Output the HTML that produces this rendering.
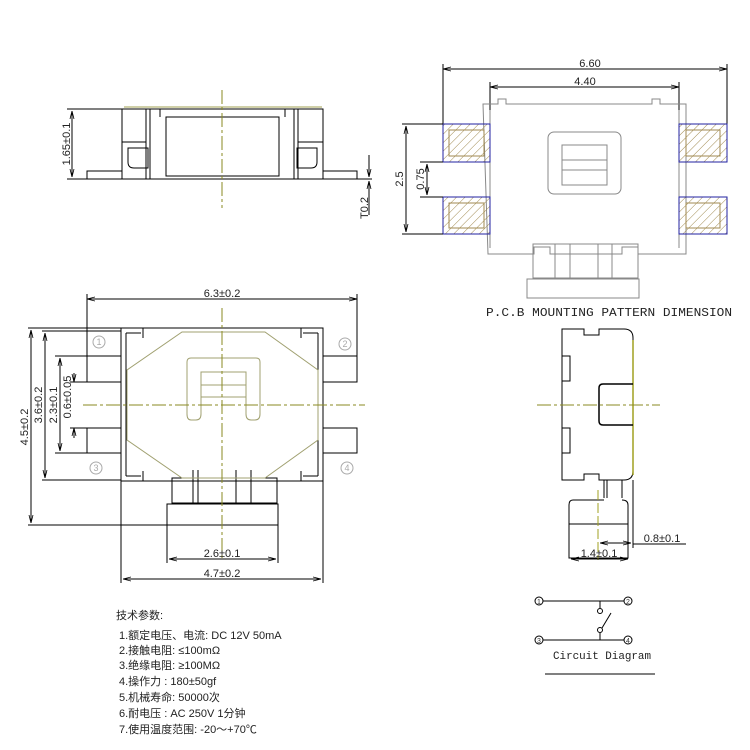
<!DOCTYPE html>
<html><head><meta charset="utf-8"><style>
html,body{margin:0;padding:0;background:#fff;}
svg{display:block;}
text{font-family:"Liberation Sans","Noto Sans CJK SC",sans-serif;}
.t{font-family:"Liberation Serif","Noto Serif CJK SC","Noto Sans CJK SC",serif;font-size:11px;fill:#222;}
</style></head><body>
<svg width="750" height="750" viewBox="0 0 750 750" xmlns="http://www.w3.org/2000/svg">
<defs>
<pattern id="h" width="6" height="6" patternUnits="userSpaceOnUse" patternTransform="rotate(45)">
<line x1="0" y1="0" x2="0" y2="6" stroke="#a08a50" stroke-width="1"/></pattern>
<marker id="a" markerWidth="8" markerHeight="6" refX="8" refY="3" orient="auto-start-reverse"><path d="M0,1 L8,3 L0,5" fill="none" stroke="#000" stroke-width="0.8"/></marker>
</defs>
<g fill="none" stroke="#000" stroke-width="1">
<line x1="124" y1="107" x2="322" y2="107" stroke="#a0a050"/>
<rect x="122" y="109" width="201" height="70"/>
<line x1="67" y1="179" x2="372" y2="179"/>
<line x1="67" y1="109" x2="122" y2="109"/>
<rect x="87" y="171" width="35" height="8"/>
<rect x="323" y="171" width="34" height="8"/>
<rect x="166" y="117" width="113" height="59"/>
<line x1="146" y1="109" x2="146" y2="179"/><line x1="150" y1="109" x2="150" y2="179"/>
<line x1="298" y1="109" x2="298" y2="179"/><line x1="294" y1="109" x2="294" y2="179"/>
<line x1="122" y1="142" x2="146" y2="142"/><line x1="298" y1="142" x2="323" y2="142"/>
<path d="M128 148 h20 v20 h-14 q-6 0 -6 -6 z"/>
<path d="M317 148 h-20 v20 h14 q6 0 6 -6 z"/>
<line x1="160" y1="109" x2="160" y2="117"/><line x1="285" y1="109" x2="285" y2="117"/>
<line x1="72" y1="111" x2="72" y2="177" marker-start="url(#a)" marker-end="url(#a)"/>
<line x1="369" y1="155" x2="369" y2="177" marker-end="url(#a)"/>
<line x1="369" y1="215" x2="369" y2="181" marker-end="url(#a)"/>
<line x1="222" y1="90" x2="222" y2="208" stroke="#8a8a20" stroke-dasharray="14,3,3,3"/>

<line x1="443" y1="69" x2="727" y2="69" marker-start="url(#a)" marker-end="url(#a)"/>
<line x1="490" y1="87" x2="679" y2="87" marker-start="url(#a)" marker-end="url(#a)"/>
<line x1="443" y1="64" x2="443" y2="124"/><line x1="727" y1="64" x2="727" y2="124"/>
<line x1="490" y1="82" x2="490" y2="124"/><line x1="679" y1="82" x2="679" y2="124"/>
<g stroke="#888">
<path d="M483 104 h15 v-5 h8 v5 h146 v-5 h8 v5 h26 v150 h-48 v-7 h-16 v7 h-72 v-7 h-16 v7 h-46 z"/>
<path d="M490 110 v138 M679 110 v138"/>
<rect x="548" y="132" width="73" height="62" rx="6"/>
<rect x="562" y="145" width="45" height="40"/>
<line x1="562" y1="160" x2="607" y2="160"/><line x1="562" y1="170" x2="607" y2="170"/>
<rect x="533" y="244" width="105" height="34"/>
<rect x="527" y="279" width="112" height="19"/>
<line x1="555" y1="244" x2="555" y2="278"/><line x1="570" y1="244" x2="570" y2="278"/>
<line x1="598" y1="244" x2="598" y2="278"/><line x1="612" y1="244" x2="612" y2="278"/>
</g>
<rect x="443" y="124" width="47" height="38" fill="url(#h)" stroke="#2020a0"/>
<rect x="443" y="197" width="47" height="37" fill="url(#h)" stroke="#2020a0"/>
<rect x="679" y="124" width="48" height="38" fill="url(#h)" stroke="#2020a0"/>
<rect x="679" y="197" width="48" height="37" fill="url(#h)" stroke="#2020a0"/>
<rect x="449" y="130" width="35" height="26" stroke="#a08a50"/>
<rect x="449" y="203" width="35" height="25" stroke="#a08a50"/>
<rect x="686" y="130" width="34" height="26" stroke="#a08a50"/>
<rect x="686" y="203" width="34" height="25" stroke="#a08a50"/>
<line x1="402" y1="124" x2="443" y2="124"/><line x1="402" y1="234" x2="443" y2="234"/>
<line x1="420" y1="162" x2="443" y2="162"/><line x1="420" y1="197" x2="443" y2="197"/>
<line x1="406" y1="126" x2="406" y2="232" marker-start="url(#a)" marker-end="url(#a)"/>
<line x1="427" y1="164" x2="427" y2="195" marker-start="url(#a)" marker-end="url(#a)"/>

<line x1="87" y1="299" x2="357" y2="299" marker-start="url(#a)" marker-end="url(#a)"/>
<line x1="87" y1="294" x2="87" y2="356"/><line x1="357" y1="294" x2="357" y2="356"/>
<path d="M121 328 h22 v10 M323 328 h-22 v10 M121 481 h22 v-10 M323 481 h-22 v-10"/>
<rect x="121" y="328" width="202" height="153"/>
<path d="M126 333 v143 M318 333 v143 M126 333 h15 M318 333 h-15 M126 476 h15 M318 476 h-15"/>
<rect x="87" y="356" width="34" height="26"/><rect x="87" y="428" width="34" height="25"/>
<rect x="323" y="356" width="34" height="26"/><rect x="323" y="428" width="34" height="25"/>
<rect x="172" y="478" width="105" height="25"/>
<rect x="167" y="504" width="111" height="21"/>
<line x1="193" y1="470" x2="193" y2="503"/><line x1="198" y1="470" x2="198" y2="503"/>
<line x1="236" y1="470" x2="236" y2="503"/><line x1="251" y1="470" x2="251" y2="503"/>
<line x1="28" y1="328" x2="121" y2="328"/><line x1="28" y1="525" x2="167" y2="525"/>
<line x1="42" y1="331" x2="121" y2="331"/><line x1="42" y1="480" x2="121" y2="480"/>
<line x1="55" y1="356" x2="87" y2="356"/><line x1="55" y1="453" x2="87" y2="453"/>
<line x1="70" y1="382" x2="87" y2="382"/><line x1="70" y1="428" x2="87" y2="428"/>
<line x1="31" y1="330" x2="31" y2="523" marker-start="url(#a)" marker-end="url(#a)"/>
<line x1="45" y1="333" x2="45" y2="478" marker-start="url(#a)" marker-end="url(#a)"/>
<line x1="60" y1="358" x2="60" y2="451" marker-start="url(#a)" marker-end="url(#a)"/>
<line x1="74" y1="373" x2="74" y2="382" marker-end="url(#a)"/>
<line x1="74" y1="438" x2="74" y2="428" marker-end="url(#a)"/>
<line x1="167" y1="525" x2="167" y2="563"/><line x1="278" y1="525" x2="278" y2="563"/>
<line x1="121" y1="481" x2="121" y2="583"/><line x1="323" y1="481" x2="323" y2="583"/>
<line x1="169" y1="559" x2="276" y2="559" marker-start="url(#a)" marker-end="url(#a)"/>
<line x1="123" y1="579" x2="321" y2="579" marker-start="url(#a)" marker-end="url(#a)"/>
<g stroke="#a0a070">
<path d="M182 332 H265 L318 370 V440 L265 478 H182 L127 440 V370 Z"/>
<path d="M191 420 q-4 0 -4 -6 V362 q0 -4 4 -4 H256 q4 0 4 4 V414 q0 6 -5 6 h-4 q-5 0 -5 -6 V372 H201 V414 q0 6 -5 6 z"/>
<line x1="201" y1="385" x2="246" y2="385"/><line x1="201" y1="397" x2="246" y2="397"/>
</g>
<line x1="83" y1="405" x2="365" y2="405" stroke="#8a8a20" stroke-dasharray="14,3,3,3"/>
<line x1="222" y1="308" x2="222" y2="560" stroke="#8a8a20" stroke-dasharray="14,3,3,3"/>
<g stroke="#aaa"><circle cx="99" cy="342" r="6"/><circle cx="345" cy="344" r="6"/><circle cx="96" cy="468" r="6"/><circle cx="347" cy="468" r="6"/></g>

<path d="M562 329 h22 v6 h15 v-6 h25 q9 0 9 9 v133 q0 9 -9 9 h-25 v-6 h-15 v6 h-22 z"/>
<line x1="633" y1="340" x2="633" y2="475" stroke="#a0a020" stroke-width="1.5"/>
<path d="M633 384 h-30 q-4 0 -4 4 v33 q0 4 4 4 h30" stroke-width="1.5"/>
<rect x="562" y="356" width="8" height="25"/><rect x="562" y="428" width="8" height="25"/>
<path d="M622 480 v18 M604 480 v18 M607 480 v18"/>
<path d="M573 500 h31 M622 500 q6 0 6 5 V558 H569 V505 q0 -5 4 -5"/>
<line x1="569" y1="524" x2="628" y2="524"/>
<line x1="598" y1="490" x2="598" y2="560" stroke="#a0a020" stroke-dasharray="10,3"/>
<line x1="633" y1="480" x2="633" y2="548"/>
<line x1="600" y1="543" x2="631" y2="543" marker-start="url(#a)" marker-end="url(#a)"/>
<line x1="633" y1="544" x2="686" y2="544"/>
<line x1="571" y1="559" x2="628" y2="559" marker-start="url(#a)" marker-end="url(#a)"/>
<line x1="537" y1="405" x2="660" y2="405" stroke="#8a8a20" stroke-dasharray="14,3,3,3"/>

<line x1="543" y1="601" x2="624" y2="601"/><line x1="543" y1="640" x2="624" y2="640"/>
<line x1="600" y1="601" x2="600" y2="608"/><circle cx="600" cy="611" r="2.5"/>
<line x1="600" y1="640" x2="600" y2="633"/><circle cx="600" cy="630" r="2.5"/>
<line x1="602" y1="628" x2="611" y2="613"/>
<line x1="545" y1="674" x2="655" y2="674"/>
</g>
<g font-size="7" fill="#333" text-anchor="middle">
<circle cx="539" cy="601" r="4" fill="none" stroke="#000"/><text x="539" y="604">1</text>
<circle cx="628" cy="601" r="4" fill="none" stroke="#000"/><text x="628" y="604">2</text>
<circle cx="539" cy="640" r="4" fill="none" stroke="#000"/><text x="539" y="643">3</text>
<circle cx="628" cy="640" r="4" fill="none" stroke="#000"/><text x="628" y="643">4</text>
</g>
<g font-size="9" fill="#aaa" text-anchor="middle">
<text x="99" y="345">1</text><text x="345" y="347">2</text><text x="96" y="471">3</text><text x="347" y="471">4</text>
</g>
<g font-size="11" fill="#222" text-anchor="middle">
<text x="590" y="67">6.60</text>
<text x="585" y="85">4.40</text>
<text x="222" y="297">6.3±0.2</text>
<text x="222" y="557">2.6±0.1</text>
<text x="222" y="577">4.7±0.2</text>
<text x="662" y="542">0.8±0.1</text>
<text x="599" y="557">1.4±0.1</text>
<text transform="translate(70,144) rotate(-90)">1.65±0.1</text>
<text transform="translate(368,208) rotate(-90)">T0.2</text>
<text transform="translate(403,179) rotate(-90)">2.5</text>
<text transform="translate(424,179) rotate(-90)">0.75</text>
<text transform="translate(28,427) rotate(-90)">4.5±0.2</text>
<text transform="translate(42,405) rotate(-90)">3.6±0.2</text>
<text transform="translate(57,405) rotate(-90)">2.3±0.1</text>
<text transform="translate(71,397) rotate(-90)">0.6±0.05</text>
</g>
<text x="486" y="316" style="font-family:'Liberation Mono',monospace;font-size:12px;fill:#222;" textLength="246" lengthAdjust="spacingAndGlyphs">P.C.B MOUNTING PATTERN DIMENSION</text>
<text x="553" y="659" style="font-family:'Liberation Mono',monospace;font-size:11px;fill:#222;" textLength="98" lengthAdjust="spacingAndGlyphs">Circuit Diagram</text>
<g class="t">
<text x="116" y="619">技术参数:</text>
<text x="119" y="639">1.额定电压、电流: DC 12V 50mA</text>
<text x="119" y="654">2.接触电阻: ≤100mΩ</text>
<text x="119" y="669">3.绝缘电阻: ≥100MΩ</text>
<text x="119" y="685">4.操作力  : 180±50gf</text>
<text x="119" y="701">5.机械寿命: 50000次</text>
<text x="119" y="717">6.耐电压  : AC 250V 1分钟</text>
<text x="119" y="733">7.使用温度范围: -20～+70℃</text>
</g>
</svg>
</body></html>
